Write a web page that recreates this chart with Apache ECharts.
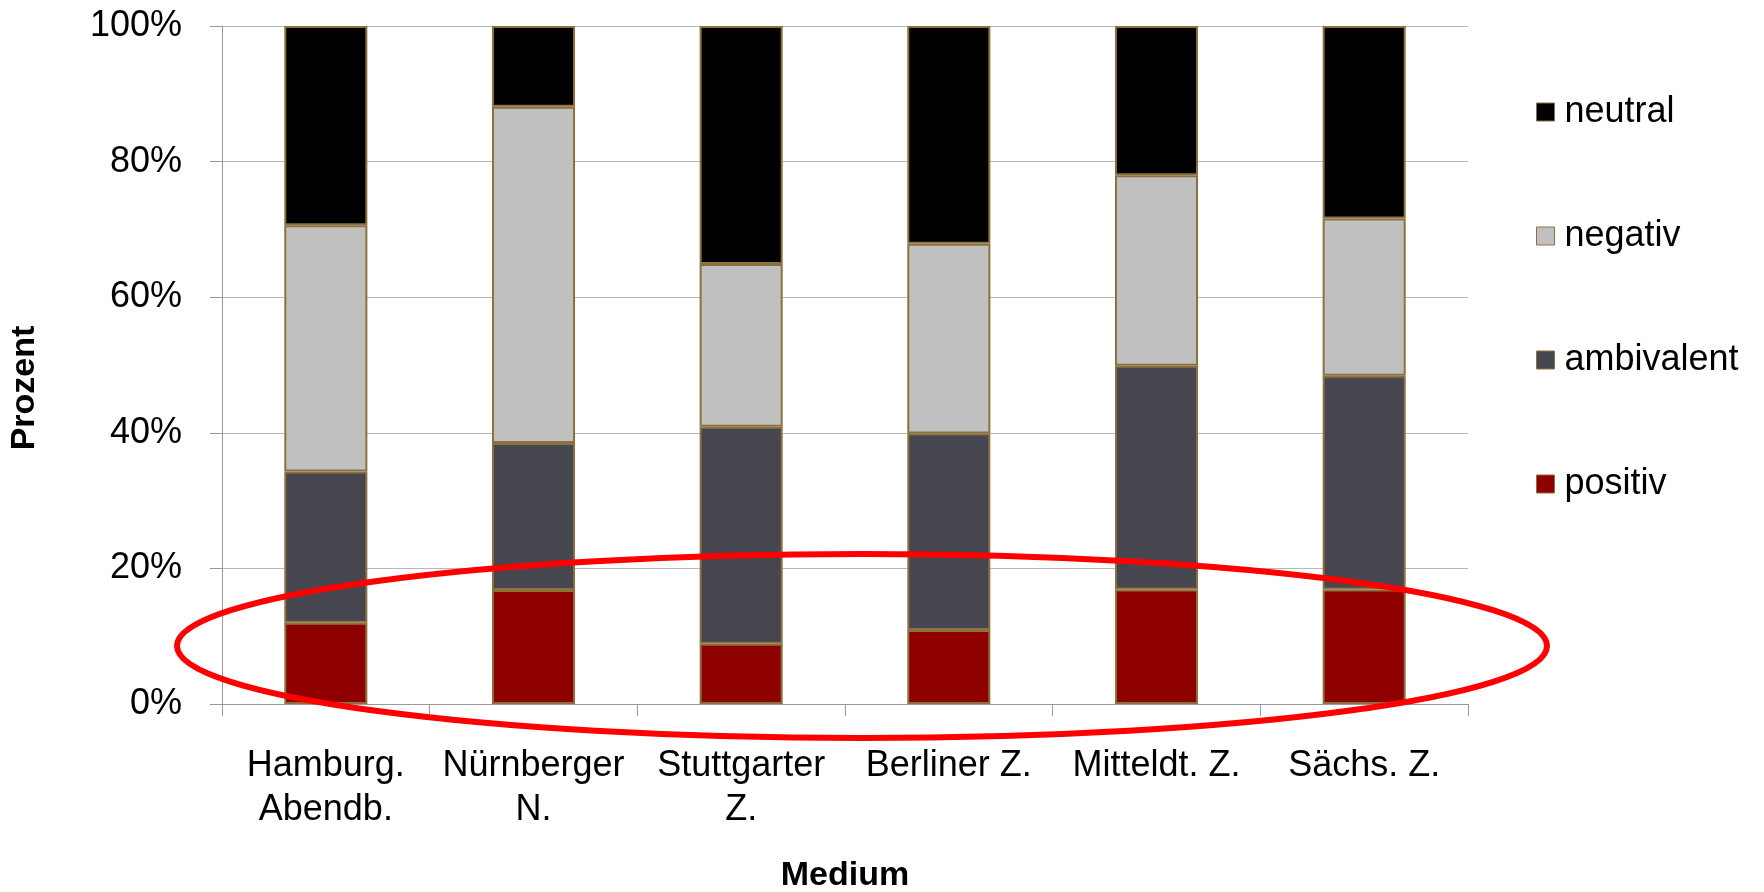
<!DOCTYPE html>
<html>
<head>
<meta charset="utf-8">
<script src="https://cdn.jsdelivr.net/npm/echarts@6/dist/echarts.min.js"></script>
<style>
  html, body { margin: 0; padding: 0; background: #ffffff; overflow: hidden; }
  #chart { width: 1764px; height: 892px; }
</style>
</head>
<body>
<div id="chart"></div>
<script>
const categories = ['Hamburg.\nAbendb.', 'Nürnberger\nN.', 'Stuttgarter\nZ.', 'Berliner Z.', 'Mitteldt. Z.', 'Sächs. Z.'];
const positiv    = [12.0, 16.8, 8.9, 10.9, 16.9, 16.9];
const ambivalent = [22.3, 21.7, 32.0, 29.0, 33.0, 31.5];
const negativ    = [36.3, 49.6, 24.0, 28.0, 28.1, 23.2];
const neutral    = [29.4, 11.9, 35.1, 32.1, 22.0, 28.4];
const yTicks = [0, 20, 40, 60, 80, 100];
const legendOrder = ['neutral', 'negativ', 'ambivalent', 'positiv'];

const FONT = '"Liberation Sans", Arial, sans-serif';
const BORDER = '#8d7040';

function barSeries(name, data, color) {
  return {
    name: name,
    type: 'bar',
    stack: 'total',
    data: data,
    barWidth: '40%',
    itemStyle: { color: color, borderColor: BORDER, borderWidth: 2 },
    emphasis: { disabled: true }
  };
}

const chart = echarts.init(document.getElementById('chart'), null, { renderer: 'canvas' });
chart.setOption({
  animation: false,
  backgroundColor: '#ffffff',
  grid: { left: 222, right: 296, top: 26, bottom: 188, containLabel: false, outerBoundsMode: 'none' },
  legend: {
    orient: 'vertical',
    left: 1536,
    top: 94,
    padding: 0,
    data: legendOrder,
    icon: 'rect',
    itemWidth: 18,
    itemHeight: 18,
    itemGap: 88,
    itemStyle: { borderColor: BORDER, borderWidth: 1 },
    textStyle: { fontFamily: FONT, fontSize: 36, color: '#000', lineHeight: 36, padding: [0, 0, 0, 5] }
  },
  xAxis: {
    type: 'category',
    data: categories,
    name: 'Medium',
    nameLocation: 'middle',
    nameGap: 155,
    nameTextStyle: { fontFamily: FONT, fontSize: 34, fontWeight: 'bold', color: '#000' },
    axisLine: { lineStyle: { color: '#999999', width: 1 } },
    axisTick: { show: true, length: 12, lineStyle: { color: '#999999' } },
    axisLabel: { fontFamily: FONT, fontSize: 36, color: '#000', lineHeight: 44, margin: 40, interval: 0 }
  },
  yAxis: {
    type: 'value',
    min: 0,
    max: 100,
    interval: 20,
    axisLine: { show: true, lineStyle: { color: '#999999', width: 1 } },
    axisTick: { show: true, length: 12, lineStyle: { color: '#999999' } },
    splitLine: { lineStyle: { color: '#b8b8b8', width: 1 } },
    axisLabel: {
      fontFamily: FONT, fontSize: 36, color: '#000', margin: 40,
      formatter: function (v) { return yTicks.indexOf(v) >= 0 ? v + '%' : ''; }
    }
  },
  series: [
    barSeries('positiv', positiv, '#8e0000'),
    barSeries('ambivalent', ambivalent, '#464650'),
    barSeries('negativ', negativ, '#c0c0c0'),
    barSeries('neutral', neutral, '#000000')
  ],
  graphic: [
    {
      type: 'text',
      x: 25,
      y: 388,
      rotation: Math.PI / 2,
      style: {
        text: 'Prozent',
        fontFamily: FONT,
        fontSize: 34,
        fontWeight: 'bold',
        fill: '#000',
        textAlign: 'center',
        textVerticalAlign: 'middle'
      }
    },
    {
      type: 'ellipse',
      z: 100,
      shape: { cx: 862, cy: 646, rx: 685, ry: 92 },
      style: { fill: 'none', stroke: '#ff0000', lineWidth: 6 }
    }
  ]
});
</script>
</body>
</html>
